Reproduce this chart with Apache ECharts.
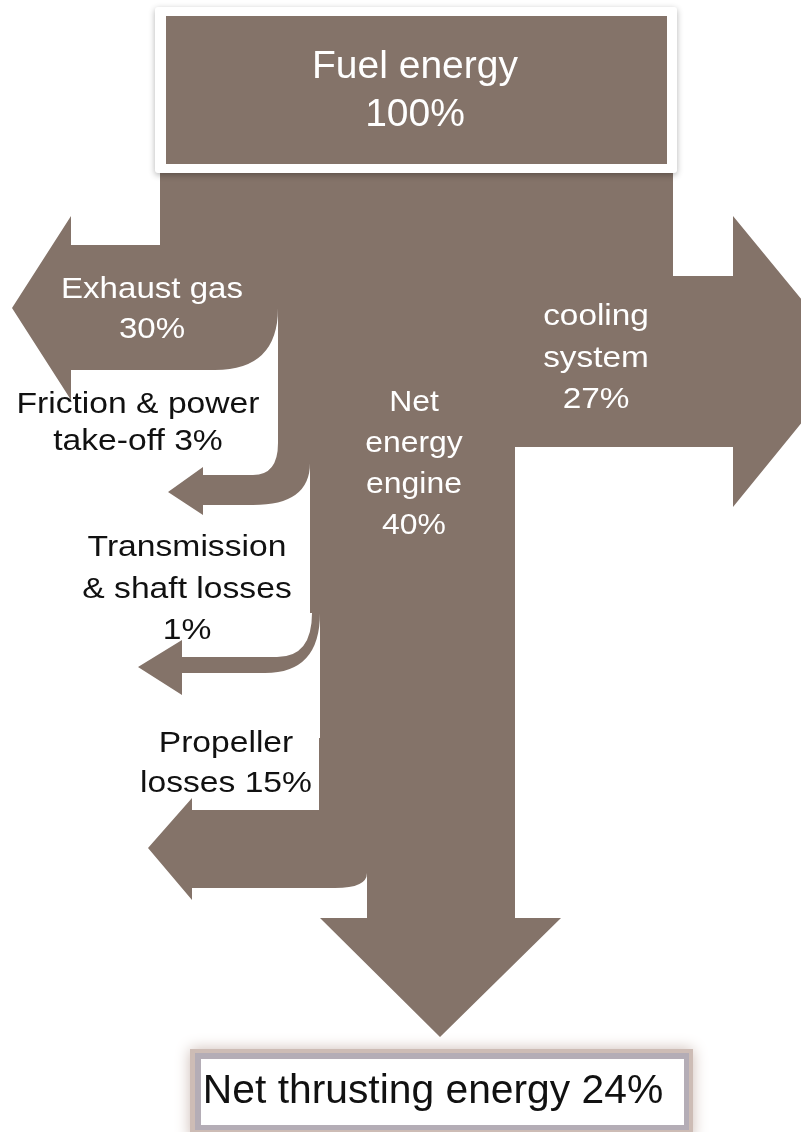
<!DOCTYPE html>
<html>
<head>
<meta charset="utf-8">
<script src="https://cdn.jsdelivr.net/npm/echarts@6/dist/echarts.min.js"></script>
<style>
html, body { margin: 0; padding: 0; background: #fff; }
#charts { width: 801px; height: 1132px; }
</style>
</head>
<body>
<div id="charts"></div>
<script>
// energy flows of the boat engine, in % of fuel energy
var flowNames = ['Fuel energy', 'Exhaust gas', 'cooling system', 'Net energy engine',
    'Friction & power take-off', 'Transmission & shaft losses', 'Propeller losses', 'Net thrusting energy'];
var flowValues = [100, 30, 27, 40, 3, 1, 15, 24];
// line breaks of each label, {v} is the value
var labelTemplates = [
    'Fuel energy\n{v}%',
    'Exhaust gas\n{v}%',
    'cooling\nsystem\n{v}%',
    'Net\nenergy\nengine\n{v}%',
    'Friction & power\ntake-off {v}%',
    'Transmission\n& shaft losses\n{v}%',
    'Propeller\nlosses {v}%',
    'Net thrusting energy {v}%'
];

var BROWN = '#847369';
var FONT = "'Liberation Sans', Arial, sans-serif";

// drawing layout, in axis units (axis = page pixels)
var bodyOutline = [
    ['M', 160, 168], ['L', 673, 168], ['L', 673, 276], ['L', 733, 276], ['L', 733, 216],
    ['L', 852, 361], ['L', 733, 507], ['L', 733, 447], ['L', 515, 447], ['L', 515, 918],
    ['L', 561, 918], ['L', 440, 1037], ['L', 320, 918], ['L', 367, 918], ['L', 367, 873],
    ['Q', 367, 888, 335, 888], ['L', 192, 888], ['L', 192, 900], ['L', 148, 848], ['L', 192, 798],
    ['L', 192, 810], ['L', 319, 810], ['L', 319, 738], ['L', 320, 738], ['L', 320, 613],
    ['Q', 320, 673, 265, 673], ['L', 182, 673], ['L', 182, 695], ['L', 138, 667], ['L', 182, 640],
    ['L', 182, 657], ['L', 277, 657], ['Q', 312, 657, 312, 613], ['L', 310, 613], ['L', 310, 463],
    ['Q', 310, 505, 253, 505], ['L', 203, 505], ['L', 203, 515], ['L', 168, 492], ['L', 203, 467],
    ['L', 203, 475], ['L', 253, 475], ['Q', 278, 475, 278, 443], ['L', 278, 308],
    ['Q', 278, 370, 215, 370], ['L', 71, 370], ['L', 71, 400], ['L', 12, 308], ['L', 71, 216],
    ['L', 71, 245], ['L', 160, 245]
];
// x, y of first line, line step, font size, colour, horizontal stretch
var labelLayout = [
    [415, 67, 48, 39, '#fff', 1.0],
    [152, 290, 40, 29, '#fff', 1.14],
    [596, 317, 41.5, 29, '#fff', 1.15],
    [414, 403, 41, 29, '#fff', 1.1],
    [138, 405, 37, 29, '#111', 1.16],
    [187, 548, 41.5, 29, '#111', 1.16],
    [226, 744, 39.5, 30, '#111', 1.12],
    [433, 1092, 0, 40, '#111', 1.02]
];

var myChart = echarts.init(document.getElementById('charts'));

function rectOf(api, x0, y0, x1, y1) {
    var a = api.coord([x0, y0]);
    var b = api.coord([x1, y1]);
    return { x: a[0], y: a[1], width: b[0] - a[0], height: b[1] - a[1] };
}

function renderBody(params, api) {
    var d = bodyOutline.map(function (c) {
        var pts = [];
        for (var i = 1; i < c.length; i += 2) {
            var p = api.coord([c[i], c[i + 1]]);
            pts.push(p[0].toFixed(1) + ' ' + p[1].toFixed(1));
        }
        return c[0] + ' ' + pts.join(' ');
    }).join(' ') + ' Z';
    return {
        type: 'group',
        children: [
            { type: 'path', shape: { pathData: d }, style: { fill: BROWN } },
            // fuel box
            {
                type: 'rect', shape: Object.assign(rectOf(api, 155, 7, 677, 173), { r: 3 }),
                style: { fill: '#fff', shadowBlur: 6, shadowOffsetY: 2, shadowColor: 'rgba(0,0,0,0.3)' }
            },
            { type: 'rect', shape: rectOf(api, 166, 16, 667, 164), style: { fill: BROWN } },
            // net thrust box with its soft glow
            {
                type: 'rect', shape: rectOf(api, 190, 1049, 693, 1140),
                style: { fill: '#cdbcb5', shadowBlur: 14, shadowColor: '#cdbcb5' }
            },
            { type: 'rect', shape: rectOf(api, 195, 1053, 689, 1130), style: { fill: '#b4adb6' } },
            { type: 'rect', shape: rectOf(api, 201, 1059, 684, 1125), style: { fill: '#fff' } }
        ]
    };
}

function renderLabel(params, api) {
    var i = api.value(0);
    var lay = labelLayout[i];
    var lines = labelTemplates[i].replace('{v}', api.value(1)).split('\n');
    return {
        type: 'group',
        children: lines.map(function (t, k) {
            var p = api.coord([lay[0], lay[1] + k * lay[2]]);
            return {
                type: 'text', x: p[0], y: p[1], scaleX: lay[5],
                style: {
                    text: t, fill: lay[4], align: 'center', verticalAlign: 'middle',
                    font: lay[3] + 'px ' + FONT
                }
            };
        })
    };
}

var option = {
    animation: false,
    grid: { left: 0, right: 0, top: 0, bottom: 0 },
    xAxis: { type: 'value', min: 0, max: 801, show: false },
    yAxis: { type: 'value', min: 0, max: 1132, inverse: true, show: false },
    series: [
        {
            type: 'custom',
            name: 'flows',
            renderItem: renderBody,
            data: [[0, 0]],
            silent: true
        },
        {
            type: 'custom',
            name: 'labels',
            renderItem: renderLabel,
            data: flowValues.map(function (v, i) { return { name: flowNames[i], value: [i, v] }; }),
            silent: true
        }
    ]
};
myChart.setOption(option);
</script>
</body>
</html>
